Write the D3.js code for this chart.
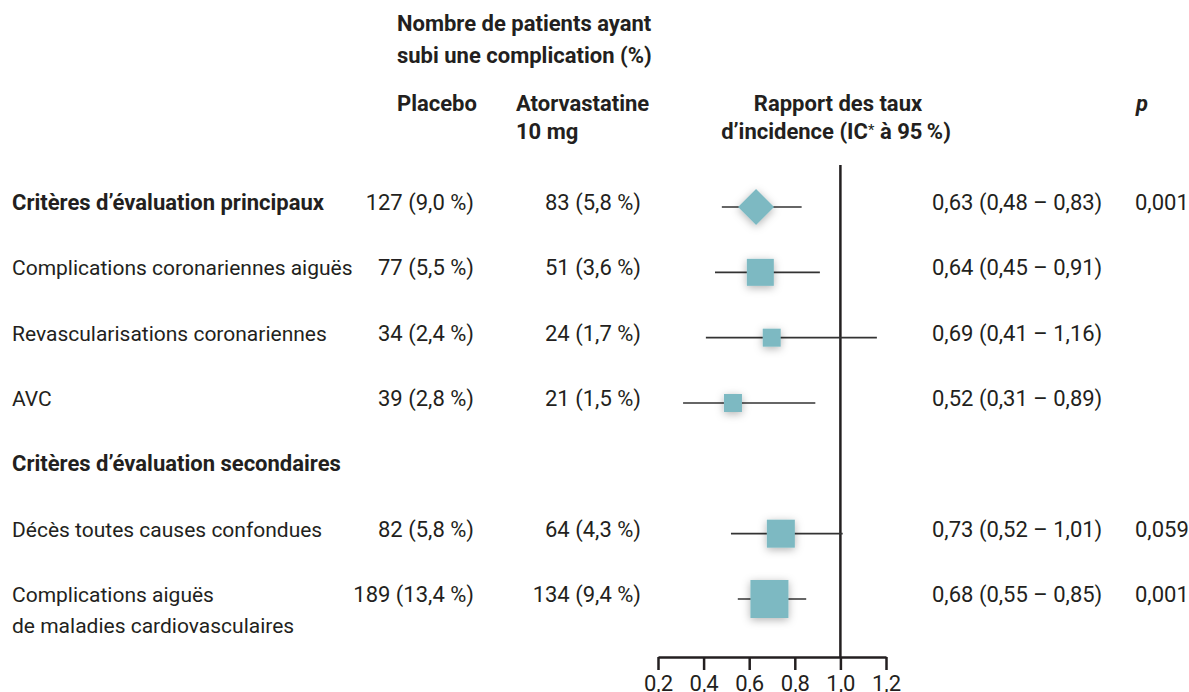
<!DOCTYPE html>
<html>
<head>
<meta charset="utf-8">
<script src="https://cdn.jsdelivr.net/npm/d3@7"></script>
<style>
	body { margin: 0; background: #fff; }
	svg { display: block; }
	text { font-family: Roboto, "Liberation Sans", sans-serif; fill: #231f20; }
</style>
</head>
<body>
<div id="forest"></div>
<script>
// rows of the table, top to bottom (null = section header with no data)
const labels = [
	"Critères d’évaluation principaux",
	"Complications coronariennes aiguës",
	"Revascularisations coronariennes",
	"AVC",
	"Critères d’évaluation secondaires",
	"Décès toutes causes confondues",
	"Complications aiguës\nde maladies cardiovasculaires",
];
const boldRows = [true, false, false, false, true, false, false];
const placeboN = [127, 77, 34, 39, null, 82, 189];
const placeboPct = [9.0, 5.5, 2.4, 2.8, null, 5.8, 13.4];
const atorvaN = [83, 51, 24, 21, null, 64, 134];
const atorvaPct = [5.8, 3.6, 1.7, 1.5, null, 4.3, 9.4];
const rateRatio = [0.63, 0.64, 0.69, 0.52, null, 0.73, 0.68];
const ciLow = [0.48, 0.45, 0.41, 0.31, null, 0.52, 0.55];
const ciHigh = [0.83, 0.91, 1.16, 0.89, null, 1.01, 0.85];
const pValues = ["0,001", "", "", "", "", "0,059", "0,001"];
// marker weight (side of square / diagonal of diamond)
const markerWeight = [36, 27, 18, 18, null, 28, 38];
const markerShape = ["diamond", "square", "square", "square", null, "square", "square"];
const xTicks = [0.2, 0.4, 0.6, 0.8, 1.0, 1.2];

const width = 1189;
const height = 692;
const teal = "#7db9c2";
const fontSize = 22;

const svg = d3
	.select("#forest")
	.append("svg")
	.attr("width", width)
	.attr("height", height);

// soft shadow under markers
const filter = svg.append("defs").append("filter")
	.attr("id", "shadow")
	.attr("x", "-60%").attr("y", "-60%")
	.attr("width", "220%").attr("height", "220%");
filter.append("feDropShadow")
	.attr("dx", 0).attr("dy", 2)
	.attr("stdDeviation", 4)
	.attr("flood-color", "#000")
	.attr("flood-opacity", 0.3);

const comma = (f) => (v) => d3.format(f)(v).replace(".", ",");
const f2 = comma(".2f");
const f1 = comma(".1f");

const rows = d3.range(labels.length);
const yScale = d3.scalePoint().domain(rows).range([210, 602]);
const xScale = d3.scaleLinear().domain([0.2, 1.2]).range([658, 886]);

// headers
const header = svg.append("g").attr("font-weight", "bold").attr("font-size", fontSize);
header.append("text").attr("x", 397).attr("y", 31).text("Nombre de patients ayant");
header.append("text").attr("x", 397).attr("y", 63).text("subi une complication (%)");
header.append("text").attr("x", 397).attr("y", 111).text("Placebo");
header.append("text").attr("x", 516).attr("y", 111).text("Atorvastatine");
header.append("text").attr("x", 516).attr("y", 139).text("10 mg");
header.append("text").attr("x", 838).attr("y", 111).attr("text-anchor", "middle").text("Rapport des taux");
const ic = header.append("text").attr("x", 836).attr("y", 139).attr("text-anchor", "middle");
ic.append("tspan").text("d’incidence (IC");
ic.append("tspan").attr("font-weight", "normal").attr("dy", -4).attr("font-size", 15).text("*");
ic.append("tspan").attr("dy", 4).text(" à 95\u2009%)");
header.append("text").attr("x", 1136).attr("y", 111).attr("font-style", "italic").text("p");

// row labels
const labelText = svg.append("g")
	.selectAll("text")
	.data(rows)
	.enter()
	.append("text")
	.attr("x", 12)
	.attr("y", (i) => yScale(i))
	.attr("font-size", (i) => (boldRows[i] ? fontSize : fontSize - 1))
	.attr("font-weight", (i) => (boldRows[i] ? "bold" : "normal"));
labelText.selectAll("tspan")
	.data((i) => labels[i].split("\n").map((t, k) => ({ t, k })))
	.enter()
	.append("tspan")
	.attr("x", 12)
	.attr("dy", (d) => (d.k ? 31 : 0))
	.text((d) => d.t);

const dataRows = rows.filter((i) => rateRatio[i] !== null);

const cols = svg.append("g").attr("font-size", fontSize);
cols.selectAll(".placebo")
	.data(dataRows)
	.enter()
	.append("text")
	.attr("class", "placebo")
	.attr("x", 474)
	.attr("y", (i) => yScale(i))
	.attr("text-anchor", "end")
	.text((i) => placeboN[i] + " (" + f1(placeboPct[i]) + " %)");

cols.selectAll(".atorva")
	.data(dataRows)
	.enter()
	.append("text")
	.attr("class", "atorva")
	.attr("x", 641)
	.attr("y", (i) => yScale(i))
	.attr("text-anchor", "end")
	.text((i) => atorvaN[i] + " (" + f1(atorvaPct[i]) + " %)");

cols.selectAll(".rr")
	.data(dataRows)
	.enter()
	.append("text")
	.attr("class", "rr")
	.attr("x", 932)
	.attr("y", (i) => yScale(i))
	.text((i) => f2(rateRatio[i]) + " (" + f2(ciLow[i]) + " – " + f2(ciHigh[i]) + ")");

cols.selectAll(".pval")
	.data(dataRows.filter((i) => pValues[i]))
	.enter()
	.append("text")
	.attr("class", "pval")
	.attr("x", 1135)
	.attr("y", (i) => yScale(i))
	.text((i) => pValues[i]);

// reference line at 1
svg.append("line")
	.attr("x1", xScale(1)).attr("x2", xScale(1))
	.attr("y1", 165).attr("y2", 658)
	.attr("stroke", "#231f20")
	.attr("stroke-width", 2.5);

// confidence intervals
const markY = (i) => yScale(i) - 3;
svg.append("g")
	.selectAll("line")
	.data(dataRows)
	.enter()
	.append("line")
	.attr("x1", (i) => xScale(ciLow[i]))
	.attr("x2", (i) => xScale(ciHigh[i]))
	.attr("y1", markY)
	.attr("y2", markY)
	.attr("stroke", "#333")
	.attr("stroke-width", 1.6);

// markers
const marks = svg.append("g").attr("filter", "url(#shadow)");
marks.selectAll("rect")
	.data(dataRows.filter((i) => markerShape[i] === "square"))
	.enter()
	.append("rect")
	.attr("x", (i) => xScale(rateRatio[i]) - markerWeight[i] / 2 + 2)
	.attr("y", (i) => markY(i) - markerWeight[i] / 2)
	.attr("width", (i) => markerWeight[i])
	.attr("height", (i) => markerWeight[i])
	.attr("fill", teal);
marks.selectAll("path")
	.data(dataRows.filter((i) => markerShape[i] === "diamond"))
	.enter()
	.append("path")
	.attr("d", (i) => {
		const cx = xScale(rateRatio[i]);
		const cy = markY(i);
		const r = markerWeight[i] / 2;
		return `M${cx},${cy - r}L${cx + r},${cy}L${cx},${cy + r}L${cx - r},${cy}Z`;
	})
	.attr("fill", teal);

// x axis
const xAxis = d3.axisBottom(xScale)
	.tickValues(xTicks)
	.tickSize(13)
	.tickSizeOuter(0)
	.tickPadding(5)
	.tickFormat(f1);
const axisG = svg.append("g")
	.attr("transform", "translate(0, 657)")
	.call(xAxis);
axisG.select(".domain").attr("stroke", "#231f20").attr("stroke-width", 2.5);
axisG.selectAll(".tick line").attr("stroke", "#231f20").attr("stroke-width", 2.5);
axisG.selectAll(".tick text")
	.attr("font-size", fontSize)
	.attr("font-family", "Roboto, sans-serif")
	.attr("fill", "#231f20");
</script>
</body>
</html>
